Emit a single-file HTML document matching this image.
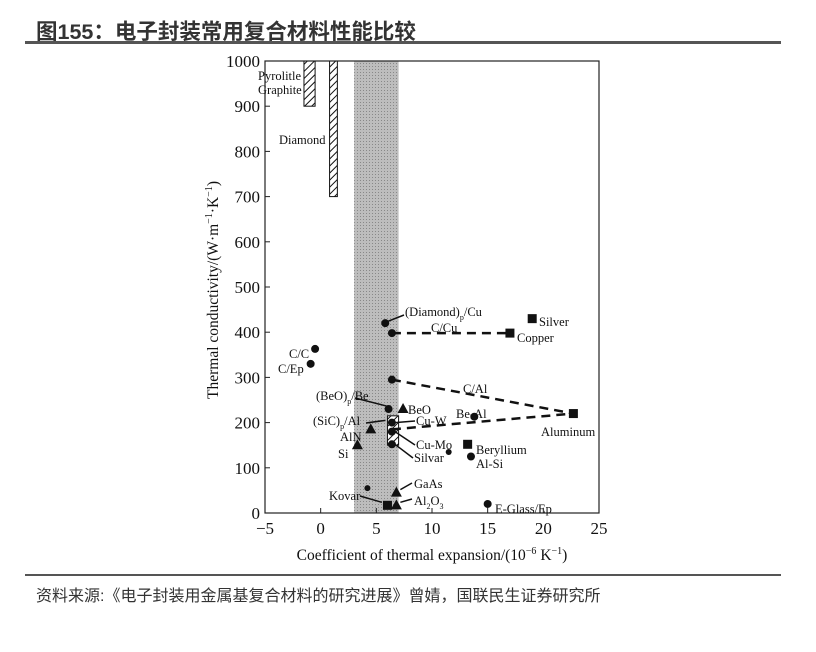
<!DOCTYPE html>
<html><head><meta charset="utf-8"><style>
body{margin:0;width:816px;height:652px;background:#fff;overflow:hidden;font-family:"Liberation Sans","Noto Sans CJK SC",sans-serif;}
#title{position:absolute;left:36px;top:15px;font-size:21.5px;font-weight:bold;color:#333;letter-spacing:0px}
#topline{position:absolute;left:25px;top:41px;width:756px;height:3px;background:#555}
#botline{position:absolute;left:25px;top:574px;width:756px;height:2px;background:#555}
#src{position:absolute;left:36px;top:582px;font-size:16px;color:#333}
svg{position:absolute;left:0;top:0}
svg text{font-family:"Liberation Serif",serif;fill:#111}
</style></head><body>
<div id="title">图155：电子封装常用复合材料性能比较</div>
<div id="topline"></div>
<svg id="chart" width="816" height="652">
<defs>
<pattern id="hatch" width="5" height="5" patternUnits="userSpaceOnUse" patternTransform="rotate(45)"><rect width="5" height="5" fill="#fff"/><line x1="0" y1="0" x2="0" y2="5" stroke="#111" stroke-width="2"/></pattern>
<pattern id="dots" width="3" height="3" patternUnits="userSpaceOnUse"><rect width="3" height="3" fill="#bdbdbd"/><rect width="1" height="1" fill="#888"/></pattern>
</defs>
</svg>
<div id="botline"></div>
<div id="src">资料来源:《电子封装用金属基复合材料的研究进展》曾婧，国联民生证券研究所</div>
<script>
const xTicks=[-5,0,5,10,15,20,25];
const yTicks=[0,100,200,300,400,500,600,700,800,900,1000];
const circleNames=["(Diamond)p/Cu","C/Cu","C/C","C/Ep","C/Al","(BeO)p/Be","Cu-W","Cu-Mo","Silvar","Silvar2","Be-Al","Al-Si","Kovar","E-Glass/Ep"];
const circleX=[5.8,6.4,-0.5,-0.9,6.4,6.1,6.4,6.4,6.4,11.5,13.8,13.5,4.2,15];
const circleY=[420,398,363,330,295,230,200,180,152,135,213,125,55,20];
const squareNames=["Silver","Copper","Aluminum","Beryllium","Kovar-sq"];
const squareX=[19,17,22.7,13.2,6];
const squareY=[430,398,220,152,17];
const triNames=["BeO","AlN","Si","GaAs","Al2O3"];
const triX=[7.4,4.5,3.3,6.8,6.8];
const triY=[230,185,150,45,17];
const dashFromX=[6.4,6.4,6.4], dashFromY=[398,295,185], dashToX=[17,22.7,22.7], dashToY=[398,220,220];
const L=265,R=599,T=61,B=513;
const sx=v=>L+(v+5)/30*(R-L), sy=v=>B-v/1000*(B-T);
const svg=document.getElementById('chart'),NS='http://www.w3.org/2000/svg';
function mk(t,a,p){const e=document.createElementNS(NS,t);for(const k in a)e.setAttribute(k,a[k]);(p||svg).appendChild(e);return e;}
let band=mk('rect',{x:sx(3),y:T,width:sx(7)-sx(3),height:B-T,fill:'url(#dots)'});


let pg=mk('rect',{x:sx(-1.5),y:sy(1000),width:sx(-0.5)-sx(-1.5),height:sy(900)-sy(1000),fill:'url(#hatch)',stroke:'#111'});


let dm=mk('rect',{x:sx(0.8),y:sy(1000),width:sx(1.5)-sx(0.8),height:sy(700)-sy(1000),fill:'url(#hatch)',stroke:'#111'});


let sic=mk('rect',{x:sx(6),y:sy(215),width:sx(7)-sx(6),height:sy(150)-sy(215),fill:'url(#hatch)',stroke:'#111'});


let fr=mk('rect',{x:L,y:T,width:R-L,height:B-T,fill:'none',stroke:'#222','stroke-width':1.2});


xTicks.forEach(v=>{mk('line',{x1:sx(v),x2:sx(v),y1:B,y2:B-5,stroke:'#222'});
 let t=mk('text',{x:sx(v),y:B+21,'text-anchor':'middle','font-size':17});t.textContent=v<0?'−'+(-v):v;
 
 });
yTicks.forEach(v=>{mk('line',{x1:L,x2:L+5,y1:sy(v),y2:sy(v),stroke:'#222'});
 let t=mk('text',{x:L-5,y:sy(v)+6,'text-anchor':'end','font-size':17});t.textContent=v;
 
 });
let xt=mk('text',{x:432,y:560,'text-anchor':'middle','font-size':15.5});xt.innerHTML='Coefficient of thermal expansion/(10<tspan dy="-6" font-size="10">−6</tspan><tspan dy="6"> K</tspan><tspan dy="-6" font-size="10">−1</tspan><tspan dy="6">)</tspan>';


let yt=mk('text',{x:0,y:0,'text-anchor':'middle','font-size':15.5,transform:'translate(218,290) rotate(-90)'});yt.innerHTML='Thermal conductivity/(W·m<tspan dy="-6" font-size="10">−1</tspan><tspan dy="6">·K</tspan><tspan dy="-6" font-size="10">−1</tspan><tspan dy="6">)</tspan>';


for(let i=0;i<dashFromX.length;i++){let l=mk('line',{x1:sx(dashFromX[i]),y1:sy(dashFromY[i]),x2:sx(dashToX[i]),y2:sy(dashToY[i]),stroke:'#111','stroke-width':2.5,'stroke-dasharray':'9,6'});
 
 }
circleX.forEach((v,i)=>{let c=mk('circle',{cx:sx(v),cy:sy(circleY[i]),r:(i==9||i==12)?3:4,fill:'#111'});
 
 });
squareX.forEach((v,i)=>{let c=mk('rect',{x:sx(v)-4.5,y:sy(squareY[i])-4.5,width:9,height:9,fill:'#111'});
 
 });
triX.forEach((v,i)=>{const x=sx(v),y=sy(triY[i]);let c=mk('polygon',{points:`${x},${y-6} ${x-5.5},${y+4} ${x+5.5},${y+4}`,fill:'#111'});
 
 });
const labels=[["Pyrolitle",258,80,'start'],["Graphite",258,94,'start'],["Diamond",279,144,'start'],["(Diamond)",405,316,'start'],["C/Cu",431,332,'start'],["Silver",539,326,'start'],["Copper",517,342,'start'],["C/C",289,358,'start'],["C/Ep",278,373,'start'],["C/Al",463,393,'start'],["(BeO)",316,400,'start'],["BeO",408,414,'start'],["Be-Al",456,418,'start'],["(SiC)",313,425,'start'],["Cu-W",416,425,'start'],["Aluminum",541,436,'start'],["AlN",340,441,'start'],["Cu-Mo",416,449,'start'],["Beryllium",476,454,'start'],["Si",338,458,'start'],["Silvar",414,462,'start'],["Al-Si",476,468,'start'],["GaAs",414,488,'start'],["Kovar",329,500,'start'],["E-Glass/Ep",495,513,'start']];
labels.forEach(a=>{let t=mk('text',{x:a[1],y:a[2],'font-size':12.5,'text-anchor':a[3]});
 if(a[0]=="(Diamond)")t.innerHTML='(Diamond)<tspan dy="4" font-size="8">p</tspan><tspan dy="-4">/Cu</tspan>';
 else if(a[0]=="(BeO)")t.innerHTML='(BeO)<tspan dy="4" font-size="8">p</tspan><tspan dy="-4">/Be</tspan>';
 else if(a[0]=="(SiC)")t.innerHTML='(SiC)<tspan dy="4" font-size="8">p</tspan><tspan dy="-4">/Al</tspan>';
 else t.textContent=a[0];
 
 });
let al=mk('text',{x:414,y:505,'font-size':12.5});al.innerHTML='Al<tspan dy="4" font-size="8">2</tspan><tspan dy="-4">O</tspan><tspan dy="4" font-size="8">3</tspan>';


const leaders=[[404,315,sx(5.8)+3,sy(420)-2],[355,398,sx(6.1)-2,sy(230)-3],[366,423,sx(6)-2,sy(205)],[415,421,sx(6.4)+3,sy(200)],[415,445,sx(6.4)+3,sy(180)],[413,458,sx(6.4)+3,sy(152)],[412,483,sx(6.8)+4,sy(45)-3],[412,499,sx(6.8)+4,sy(17)-3],[360,496,sx(5.5),sy(17)-3]];
leaders.forEach(a=>{let l=mk('line',{x1:a[0],y1:a[1],x2:a[2],y2:a[3],stroke:'#111','stroke-width':1.5});
 
 });
</script>
</body></html>
